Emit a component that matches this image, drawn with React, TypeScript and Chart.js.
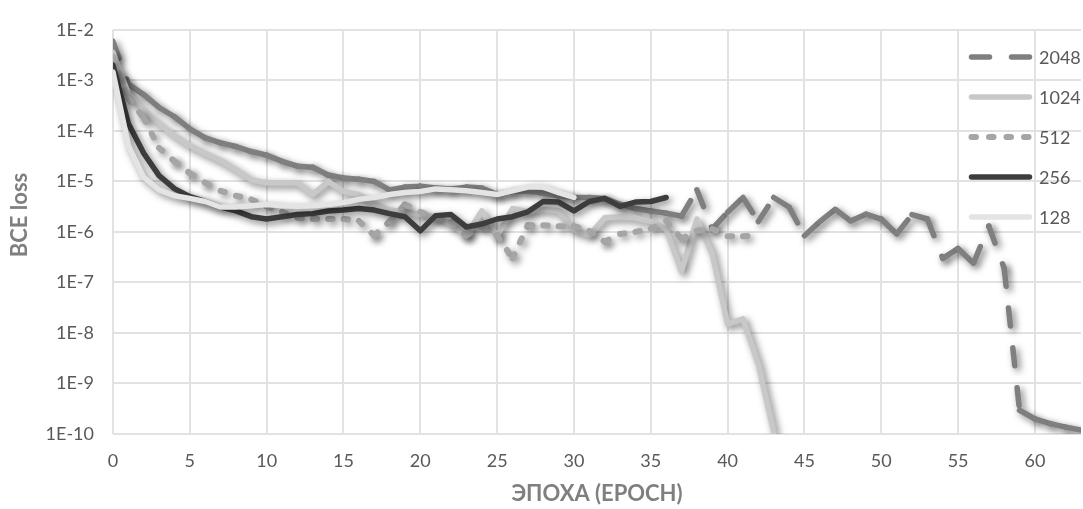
import React, { useEffect, useRef } from "react";
import { Chart, registerables } from "chart.js";

Chart.register(...registerables);

// ---- data ----
const SERIES_LABELS = ["2048", "1024", "512", "256", "128"];

const LOSS_2048 = [
  5.9e-3, 8.5e-4, 5.2e-4, 2.9e-4, 1.9e-4, 1.1e-4, 7.3e-5, 5.8e-5, 4.9e-5, 3.9e-5,
  3.3e-5, 2.5e-5, 2.0e-5, 1.9e-5, 1.34e-5, 1.17e-5, 1.1e-5, 1.0e-5, 6.8e-6, 7.7e-6,
  8.0e-6, 7.4e-6, 7.1e-6, 7.7e-6, 7.4e-6, 5.5e-6, 6.3e-6, 6.5e-6, 5.8e-6, 5.2e-6,
  4.8e-6, 4.8e-6, 4.6e-6, 3.5e-6, 2.9e-6, 2.6e-6, 2.35e-6, 2.05e-6, 6.8e-6, 1.15e-6,
  2.45e-6, 4.8e-6, 1.6e-6, 4.8e-6, 3.1e-6, 8.4e-7, 1.6e-6, 2.8e-6, 1.65e-6, 2.24e-6,
  1.8e-6, 9.1e-7, 2.2e-6, 1.8e-6, 3.0e-7, 4.7e-7, 2.4e-7, 1.3e-6, 1.9e-7, 2.95e-10,
  2.0e-10, 1.6e-10, 1.37e-10, 1.2e-10,
];

const LOSS_1024 = [
  3.6e-3, 5.5e-4, 2.45e-4, 1.37e-4, 8.0e-5, 5.1e-5, 3.6e-5, 2.6e-5, 1.7e-5, 1.07e-5,
  9.4e-6, 9.4e-6, 9.4e-6, 5.5e-6, 1.0e-5, 6.3e-6, 5.5e-6, 3.5e-6, 2.7e-6, 2.5e-6,
  2.2e-6, 2.0e-6, 1.43e-6, 8.6e-7, 2.6e-6, 8.2e-7, 2.9e-6, 2.5e-6, 2.8e-6, 2.6e-6,
  1.1e-6, 8.6e-7, 1.9e-6, 2.0e-6, 1.9e-6, 1.6e-6, 1.15e-6, 1.66e-7, 1.8e-6, 3.7e-7,
  1.5e-8, 1.9e-8, 2.4e-9, 1.1e-10,
];

const LOSS_512 = [
  2.9e-3, 4.4e-4, 1.8e-4, 4.6e-5, 2.5e-5, 1.45e-5, 9.4e-6, 6.5e-6, 5.2e-6, 4.4e-6,
  3.2e-6, 2.5e-6, 1.9e-6, 1.8e-6, 1.8e-6, 1.8e-6, 1.65e-6, 8.5e-7, 1.6e-6, 3.5e-6,
  2.5e-6, 1.9e-6, 1.6e-6, 8.5e-7, 1.3e-6, 8.5e-7, 3.0e-7, 1.35e-6, 1.35e-6, 1.3e-6,
  1.3e-6, 1.05e-6, 6.4e-7, 9.1e-7, 1.0e-6, 1.15e-6, 1.65e-6, 7.3e-7, 1.05e-6, 1.15e-6,
  8.2e-7, 8.2e-7, 8.5e-7,
];

const LOSS_256 = [
  2.0e-3, 1.4e-4, 3.6e-5, 1.3e-5, 7.2e-6, 5.0e-6, 4.0e-6, 3.1e-6, 2.6e-6, 2.0e-6,
  1.8e-6, 2.0e-6, 2.2e-6, 2.3e-6, 2.6e-6, 2.7e-6, 2.9e-6, 2.7e-6, 2.3e-6, 2.0e-6,
  1.05e-6, 2.1e-6, 2.2e-6, 1.25e-6, 1.43e-6, 1.8e-6, 2.0e-6, 2.5e-6, 4.0e-6, 3.9e-6,
  2.6e-6, 4.0e-6, 4.6e-6, 3.2e-6, 3.9e-6, 4.0e-6, 4.8e-6,
];

const LOSS_128 = [
  1.46e-3, 5.1e-5, 1.2e-5, 6.8e-6, 5.2e-6, 4.6e-6, 4.0e-6, 3.1e-6, 3.1e-6, 3.3e-6,
  3.5e-6, 3.3e-6, 3.2e-6, 3.3e-6, 3.5e-6, 3.8e-6, 4.4e-6, 4.8e-6, 5.5e-6, 6.0e-6,
  6.3e-6, 7.1e-6, 6.8e-6, 6.5e-6, 6.0e-6, 5.5e-6, 6.5e-6, 7.7e-6, 7.7e-6, 6.0e-6,
  4.8e-6,
];

const X_TICKS = [0, 5, 10, 15, 20, 25, 30, 35, 40, 45, 50, 55, 60];
const X_MAX = 63;
const Y_TICK_VALUES = [1e-10, 1e-9, 1e-8, 1e-7, 1e-6, 1e-5, 1e-4, 1e-3, 1e-2];
const Y_TICK_LABELS = ["1E-10", "1E-9", "1E-8", "1E-7", "1E-6", "1E-5", "1E-4", "1E-3", "1E-2"];
const X_TITLE = "ЭПОХА (EPOCH)";
const Y_TITLE = "BCE loss";

// ---- styles ----
const SERIES_VALUES = [LOSS_2048, LOSS_1024, LOSS_512, LOSS_256, LOSS_128];
const COLORS = ["#7f7f7f", "#c8c8c8", "#a5a5a5", "#3d3d3d", "#e4e4e4"];
const DASHES = [[18, 22], [], [4.5, 13], [], []];
const WIDTHS = [5.5, 5.5, 6, 5.5, 5.5];
const ORDERS = [4, 3, 2, 1, 0];
const FONT = "Lato, 'Open Sans', sans-serif";

const shadowPlugin = {
  id: "lineShadow",
  beforeDatasetDraw(chart: any) {
    const ctx = chart.ctx;
    ctx.save();
    ctx.shadowColor = "rgba(0,0,0,0.5)";
    ctx.shadowBlur = 7;
    ctx.shadowOffsetX = 3;
    ctx.shadowOffsetY = 3;
  },
  afterDatasetDraw(chart: any) {
    chart.ctx.restore();
  },
};

const legendPlugin = {
  id: "customLegend",
  afterDatasetsDraw(chart: any) {
    const ctx = chart.ctx;
    ctx.save();
    chart.data.datasets.forEach((ds: any, i: number) => {
      const y = 57 + i * 40;
      ctx.beginPath();
      ctx.setLineDash(ds.borderDash || []);
      ctx.lineCap = "round";
      ctx.strokeStyle = ds.borderColor;
      ctx.lineWidth = ds.borderWidth;
      ctx.moveTo(971.5, y);
      ctx.lineTo(1029.5, y);
      ctx.stroke();
      ctx.setLineDash([]);
      ctx.fillStyle = "#595959";
      ctx.font = `18px ${FONT}`;
      ctx.textAlign = "left";
      ctx.textBaseline = "middle";
      ctx.fillText(ds.label, 1039, y + 1);
    });
    ctx.restore();
  },
  afterDraw(chart: any) {
    const ctx = chart.ctx;
    ctx.save();
    ctx.translate(20, 215);
    ctx.rotate(-Math.PI / 2);
    ctx.font = `bold 22px ${FONT}`;
    ctx.fillStyle = "#7f7f7f";
    ctx.textAlign = "center";
    ctx.textBaseline = "middle";
    ctx.fillText(Y_TITLE, 0, 0);
    ctx.restore();
  },
};

export default function App() {
  const canvasRef = useRef<HTMLCanvasElement | null>(null);

  useEffect(() => {
    document.body.style.margin = "0";
    const canvas = canvasRef.current;
    if (!canvas) return;
    const datasets = SERIES_LABELS.map((label, i) => ({
      label,
      data: SERIES_VALUES[i].map((v, x) => ({ x, y: v })),
      borderColor: COLORS[i],
      backgroundColor: COLORS[i],
      borderWidth: WIDTHS[i],
      borderDash: DASHES[i],
      borderCapStyle: "round",
      borderJoinStyle: "round",
      pointRadius: 0,
      tension: 0,
      fill: false,
      order: ORDERS[i],
      // dash pattern restarts on every segment (as in the original)
      segment: DASHES[i].length
        ? { borderDashOffset: (c: any) => (c.p0DataIndex % 2 ? 0.0001 : 0) }
        : undefined,
    }));
    const gridStyle = { color: "#e2e2e2", lineWidth: 2, drawTicks: false };
    const chart = new Chart(canvas, {
      type: "line",
      data: { datasets } as any,
      plugins: [shadowPlugin, legendPlugin],
      options: {
        responsive: false,
        animation: false,
        layout: { padding: { top: 22, right: 2, left: 0, bottom: 0 } },
        plugins: { legend: { display: false }, tooltip: { enabled: false } },
        scales: {
          x: {
            type: "linear",
            min: 0,
            max: X_MAX,
            afterBuildTicks: (s: any) => {
              s.ticks = X_TICKS.map((v) => ({ value: v }));
            },
            afterFit: (s: any) => {
              s.height = 75;
            },
            ticks: {
              font: { family: FONT, size: 18 },
              color: "#595959",
              padding: 16,
              maxRotation: 0,
              autoSkip: false,
            },
            grid: gridStyle,
            border: { display: false },
            title: {
              display: true,
              text: X_TITLE,
              font: { family: FONT, size: 22, weight: "bold" },
              color: "#7f7f7f",
              padding: { top: 2, bottom: 2 },
            },
          },
          y: {
            type: "logarithmic",
            min: 1e-10,
            max: 1e-2,
            afterBuildTicks: (s: any) => {
              s.ticks = Y_TICK_VALUES.map((v) => ({ value: v }));
            },
            afterFit: (s: any) => {
              s.width = 113;
            },
            ticks: {
              font: { family: FONT, size: 18 },
              color: "#595959",
              padding: 19,
              autoSkip: false,
              callback: (_v: any, i: number) => Y_TICK_LABELS[i],
            },
            grid: gridStyle,
            border: { display: false },
          },
        },
      } as any,
    });
    return () => chart.destroy();
  }, []);

  return (
    <div style={{ position: "fixed", left: 0, top: 0, width: 1083, height: 509, background: "#fff" }}>
      <canvas ref={canvasRef} width={1083} height={509} style={{ display: "block" }} />
    </div>
  );
}
